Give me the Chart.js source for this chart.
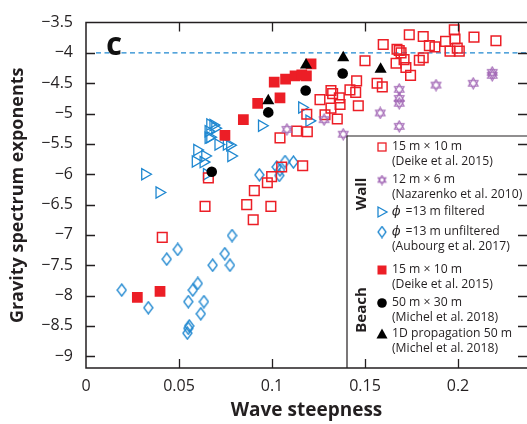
<!DOCTYPE html>
<html>
<head>
<meta charset="utf-8">
<script src="https://cdn.jsdelivr.net/npm/chart.js@4.4.0/dist/chart.umd.min.js"></script>
<style>
html, body { margin: 0; padding: 0; background: #fff; overflow: hidden; }
</style>
</head>
<body>
<canvas id="c" width="527" height="424"></canvas>
<script>
// tick values and labels
const xTicks = [0, 0.05, 0.1, 0.15, 0.2];
const xTickLabels = ['0', '0.05', '0.1', '0.15', '0.2'];
const yTicks = [-9, -8.5, -8, -7.5, -7, -6.5, -6, -5.5, -5, -4.5, -4, -3.5];
const yTickLabels = ['−9', '−8.5', '−8', '−7.5', '−7', '−6.5', '−6', '−5.5', '−5', '−4.5', '−4', '−3.5'];
const refLine = -4;

// Wall: 15 m x 10 m (Deike et al. 2015)
const wallDeike = [
  [0.0658, -6.06], [0.064, -6.53], [0.0864, -6.50], [0.0899, -6.75], [0.041, -7.04],
  [0.0994, -6.53], [0.0905, -6.27], [0.0975, -6.14], [0.0998, -6.04], [0.1052, -5.88],
  [0.1165, -5.86], [0.1043, -5.40], [0.1133, -5.29], [0.119, -5.30], [0.1187, -5.01],
  [0.1258, -4.77], [0.1285, -5.02], [0.1317, -4.91], [0.1351, -5.09], [0.1366, -4.85],
  [0.1317, -4.62], [0.1326, -4.67], [0.1362, -4.74], [0.1419, -4.61], [0.145, -4.65],
  [0.1455, -4.46], [0.1464, -4.87], [0.1565, -4.50], [0.1593, -4.56], [0.15, -4.13],
  [0.1598, -3.86], [0.1672, -3.94], [0.1684, -3.96], [0.1694, -4.00], [0.1667, -4.17],
  [0.171, -4.11], [0.172, -4.24], [0.1745, -4.37], [0.1738, -3.70], [0.1813, -3.73],
  [0.1846, -3.88], [0.1876, -3.90], [0.1792, -4.12], [0.1813, -4.08], [0.1933, -3.81],
  [0.1957, -3.97], [0.1984, -3.77], [0.198, -3.62], [0.1996, -3.92], [0.2007, -3.97],
  [0.2086, -3.74], [0.2204, -3.80]
];
// Wall: 12 m x 6 m (Nazarenko et al. 2010)
const wallNazarenko = [
  [0.108, -5.26], [0.128, -5.10], [0.1383, -5.34], [0.1582, -4.99], [0.1684, -4.60],
  [0.1684, -4.75], [0.1684, -4.83], [0.1684, -5.21], [0.1882, -4.53], [0.2082, -4.50],
  [0.2184, -4.32], [0.2184, -4.37]
];
// Wall: phi = 13 m filtered (Aubourg et al. 2017)
const wallFiltered = [
  [0.0317, -6.00], [0.0394, -6.30], [0.0597, -5.60], [0.064, -5.70], [0.0589, -5.79],
  [0.0631, -5.80], [0.0649, -6.00], [0.0667, -5.18], [0.0684, -5.19], [0.0658, -5.29],
  [0.0667, -5.39], [0.0694, -5.24], [0.0658, -5.40], [0.0711, -5.51], [0.0756, -5.51],
  [0.0774, -5.52], [0.078, -5.70], [0.0945, -5.20], [0.1161, -4.90], [0.12, -5.12]
];
// Wall: phi = 13 m unfiltered (Aubourg et al. 2017)
const wallUnfiltered = [
  [0.0192, -7.91], [0.0335, -8.20], [0.0434, -7.40], [0.0493, -7.24], [0.055, -8.10],
  [0.0574, -7.91], [0.0601, -7.80], [0.0634, -8.10], [0.0617, -8.30], [0.0555, -8.50],
  [0.055, -8.54], [0.0545, -8.62], [0.0681, -7.50], [0.0746, -7.31], [0.0774, -7.50],
  [0.0785, -7.01], [0.0932, -6.01], [0.1025, -5.88], [0.1039, -6.02], [0.107, -5.79],
  [0.1115, -5.80], [0.1043, -5.93]
];
// Beach: 15 m x 10 m (Deike et al. 2015)
const beachDeike = [
  [0.0276, -8.03], [0.0398, -7.93], [0.0747, -5.36], [0.0846, -5.10], [0.0923, -4.83],
  [0.1043, -4.74], [0.1012, -4.48], [0.1073, -4.43], [0.1124, -4.38], [0.116, -4.36],
  [0.1185, -4.38], [0.121, -4.18]
];
// Beach: 50 m x 30 m (Michel et al. 2018)
const beachMichel = [[0.0676, -5.96], [0.098, -4.98], [0.1181, -4.62], [0.138, -4.34]];
// Beach: 1D propagation 50 m (Michel et al. 2018)
const beachMichel1D = [[0.098, -4.79], [0.1183, -4.20], [0.1383, -4.08], [0.1584, -4.27]];

const legendText = [
  ['15 m × 10 m', '(Deike et al. 2015)'],
  ['12 m × 6 m', '(Nazarenko et al. 2010)'],
  ['=13 m filtered'],
  ['=13 m unfiltered', '(Aubourg et al. 2017)'],
  ['15 m × 10 m', '(Deike et al. 2015)'],
  ['50 m × 30 m', '(Michel et al. 2018)'],
  ['1D propagation 50 m', '(Michel et al. 2018)']
];

const RED = 'rgb(236,30,38)';
const BLUE = 'rgb(30,135,208)';
const PURPLE = 'rgb(160,100,180)';
const INK = '#231f20';

function makeStar(size, color) {
  const c = document.createElement('canvas');
  c.width = c.height = size;
  const g = c.getContext('2d');
  const r = size / 2 - 1;
  g.strokeStyle = color;
  g.lineWidth = 1.1;
  [-Math.PI / 2, Math.PI / 2].forEach(function (off) {
    g.beginPath();
    for (let i = 0; i < 3; i++) {
      const a = off + i * 2 * Math.PI / 3;
      const px = size / 2 + r * Math.cos(a), py = size / 2 + r * Math.sin(a);
      if (i) g.lineTo(px, py); else g.moveTo(px, py);
    }
    g.closePath();
    g.stroke();
  });
  return c;
}

function makeDiamond(w, h, color) {
  const c = document.createElement('canvas');
  c.width = w; c.height = h;
  const g = c.getContext('2d');
  g.strokeStyle = color;
  g.lineWidth = 1.3;
  g.beginPath();
  g.moveTo(w / 2, 1); g.lineTo(w - 1, h / 2); g.lineTo(w / 2, h - 1); g.lineTo(1, h / 2);
  g.closePath();
  g.stroke();
  return c;
}

const starImg = makeStar(13, PURPLE);
const diamondImg = makeDiamond(11, 14, BLUE);
const starSmall = makeStar(11, PURPLE);
const diamondSmall = makeDiamond(10, 13, BLUE);

function pts(arr) { return arr.map(function (p) { return {x: p[0], y: p[1]}; }); }

function drawLegend(chart) {
  const ctx = chart.ctx, a = chart.chartArea;
  const left = 347, top = 136;
  ctx.save();
  ctx.fillStyle = '#fff';
  ctx.fillRect(left, top, a.right - left, a.bottom - top);
  ctx.strokeStyle = INK;
  ctx.lineWidth = 1.2;
  ctx.beginPath();
  ctx.moveTo(left, a.bottom); ctx.lineTo(left, top); ctx.lineTo(a.right, top);
  ctx.stroke();

  // group labels
  ctx.fillStyle = INK;
  ctx.font = 'bold 15px "Open Sans"';
  ctx.textAlign = 'center';
  ctx.textBaseline = 'middle';
  [['Wall', 194], ['Beach', 310]].forEach(function (g) {
    ctx.save();
    ctx.translate(362, g[1]);
    ctx.rotate(-Math.PI / 2);
    ctx.fillText(g[0], 0, 0);
    ctx.restore();
  });

  const starts = [147, 180, 212, 232, 270, 303, 334];
  const sx = 382, tx = 392;
  ctx.textAlign = 'left';
  legendText.forEach(function (lines, i) {
    const y0 = starts[i];
    ctx.save();
    if (i === 0) {
      ctx.strokeStyle = RED; ctx.lineWidth = 1.3; ctx.strokeRect(sx - 4, y0 - 4, 8, 8);
    } else if (i === 1) {
      ctx.drawImage(starSmall, sx - 5.5, y0 - 5.5);
    } else if (i === 2) {
      ctx.strokeStyle = BLUE; ctx.lineWidth = 1.3;
      ctx.beginPath(); ctx.moveTo(sx - 4, y0 - 5); ctx.lineTo(sx + 5, y0); ctx.lineTo(sx - 4, y0 + 5); ctx.closePath(); ctx.stroke();
    } else if (i === 3) {
      ctx.drawImage(diamondSmall, sx - 5, y0 - 6.5);
    } else if (i === 4) {
      ctx.fillStyle = RED; ctx.fillRect(sx - 4.5, y0 - 4.5, 9, 9);
    } else if (i === 5) {
      ctx.fillStyle = '#000'; ctx.beginPath(); ctx.arc(sx, y0, 4.8, 0, Math.PI * 2); ctx.fill();
    } else {
      ctx.fillStyle = '#000'; ctx.beginPath(); ctx.moveTo(sx, y0 - 5.5); ctx.lineTo(sx + 5.5, y0 + 4.5); ctx.lineTo(sx - 5.5, y0 + 4.5); ctx.closePath(); ctx.fill();
    }
    ctx.restore();
    lines.forEach(function (t, j) {
      let x = tx;
      if (j === 0 && (i === 2 || i === 3)) {
        ctx.font = 'italic 12.5px "DejaVu Serif"';
        ctx.fillText('ϕ', x, y0);
        x += ctx.measureText('ϕ ').width + 1;
      }
      ctx.font = '12.2px "Open Sans"';
      ctx.fillText(t, x, y0 + j * 14.5);
    });
  });
  ctx.restore();
}

const framePlugin = {
  id: 'frame',
  beforeDatasetsDraw(chart) {
    const ctx = chart.ctx, a = chart.chartArea, y = chart.scales.y;
    const yy = y.getPixelForValue(refLine);
    ctx.save();
    ctx.strokeStyle = BLUE;
    ctx.lineWidth = 1.2;
    ctx.setLineDash([5, 3.5]);
    ctx.beginPath(); ctx.moveTo(a.left + 10, yy); ctx.lineTo(a.right, yy); ctx.stroke();
    ctx.setLineDash([]);
    ctx.fillStyle = '#111';
    ctx.font = '800 24px "Open Sans"';
    ctx.textAlign = 'center';
    ctx.textBaseline = 'middle';
    ctx.fillText('C', 114, yy - 5);
    ctx.restore();
  },
  afterDatasetsDraw(chart) {
    const ctx = chart.ctx, a = chart.chartArea, x = chart.scales.x, y = chart.scales.y;
    drawLegend(chart);
    ctx.save();
    ctx.strokeStyle = INK;
    ctx.lineWidth = 1.5;
    ctx.beginPath();
    ctx.moveTo(a.right, a.top); ctx.lineTo(a.left, a.top); ctx.lineTo(a.left, a.bottom); ctx.lineTo(a.right, a.bottom);
    ctx.stroke();
    ctx.lineWidth = 1.3;
    ctx.beginPath();
    xTicks.forEach(function (v) {
      if (v === 0) return;
      const px = Math.round(x.getPixelForValue(v)) + 0.5;
      ctx.moveTo(px, a.bottom); ctx.lineTo(px, a.bottom - 9);
      ctx.moveTo(px, a.top); ctx.lineTo(px, a.top + 9);
    });
    yTicks.forEach(function (v) {
      if (v === -3.5) return;
      const py = Math.round(y.getPixelForValue(v)) + 0.5;
      ctx.moveTo(a.left, py); ctx.lineTo(a.left + 9, py);
      ctx.moveTo(a.right, py); ctx.lineTo(a.right - 9, py);
    });
    ctx.stroke();
    ctx.restore();
  }
};

const tickFont = {family: 'Open Sans', size: 16};

new Chart(document.getElementById('c'), {
  type: 'scatter',
  data: {
    datasets: [
      {label: '1D propagation 50 m', data: pts(beachMichel1D), pointStyle: 'triangle', pointRadius: 7, backgroundColor: '#000', borderColor: '#000', borderWidth: 0},
      {label: '50 m x 30 m', data: pts(beachMichel), pointStyle: 'circle', pointRadius: 5.3, backgroundColor: '#000', borderColor: '#000', borderWidth: 0},
      {label: 'Beach 15 m x 10 m', data: pts(beachDeike), pointStyle: 'rect', pointRadius: 7.6, backgroundColor: RED, borderColor: RED, borderWidth: 0},
      {label: '12 m x 6 m', data: pts(wallNazarenko), pointStyle: starImg},
      {label: 'Wall 15 m x 10 m', data: pts(wallDeike), pointStyle: 'rect', pointRadius: 6.8, backgroundColor: 'rgba(0,0,0,0)', borderColor: RED, borderWidth: 1.5},
      {label: 'filtered', data: pts(wallFiltered), pointStyle: 'triangle', rotation: 90, pointRadius: 6.5, backgroundColor: 'rgba(0,0,0,0)', borderColor: BLUE, borderWidth: 1.3},
      {label: 'unfiltered', data: pts(wallUnfiltered), pointStyle: diamondImg}
    ]
  },
  options: {
    responsive: false,
    animation: false,
    events: [],
    layout: {autoPadding: false, padding: {top: 16, right: 0, left: 0, bottom: 0}},
    plugins: {legend: {display: false}, tooltip: {enabled: false}},
    scales: {
      x: {
        type: 'linear', min: 0, max: 0.2371,
        afterBuildTicks: function (s) { s.ticks = xTicks.map(function (v) { return {value: v}; }); },
        afterFit: function (s) { s.height = 56; },
        grid: {display: false, drawTicks: false},
        border: {display: false},
        ticks: {callback: function (v, i) { return xTickLabels[i]; }, font: tickFont, color: INK, padding: 9, maxRotation: 0, autoSkip: false},
        title: {display: true, text: 'Wave steepness', font: {family: 'Open Sans', size: 19, weight: 'bold'}, color: INK, padding: {top: 0, bottom: 2}}
      },
      y: {
        type: 'linear', min: -9.194, max: -3.5,
        afterBuildTicks: function (s) { s.ticks = yTicks.map(function (v) { return {value: v}; }); },
        afterFit: function (s) { s.width = 86; },
        grid: {display: false, drawTicks: false},
        border: {display: false},
        ticks: {callback: function (v, i) { return yTickLabels[i]; }, font: tickFont, color: INK, padding: 13, autoSkip: false},
        title: {display: true, text: 'Gravity spectrum exponents', font: {family: 'Open Sans', size: 18, weight: 'bold'}, color: INK, padding: {top: 7, bottom: 0}}
      }
    }
  },
  plugins: [framePlugin]
});
</script>
</body>
</html>
